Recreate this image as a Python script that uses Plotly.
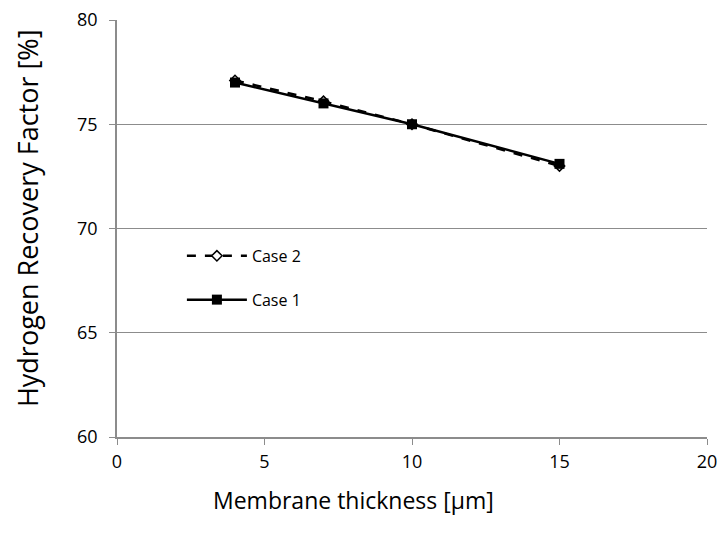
import plotly.graph_objects as go

thickness = [4, 7, 10, 15]
case1 = [77.0, 76.0, 75.0, 73.1]
case2 = [77.1, 76.1, 75.0, 73.0]

x_ticks = [0, 5, 10, 15, 20]
y_ticks = [60, 65, 70, 75, 80]

FONT = "Open Sans"

fig = go.Figure()
fig.add_trace(go.Scatter(
    x=thickness, y=case2, name="Case 2", mode="lines+markers", legendgroup="c2",
    line=dict(color="black", width=2.5, dash="dash"),
    marker=dict(symbol="diamond", size=8, color="white",
                line=dict(color="black", width=1.5)),
))
fig.add_trace(go.Scatter(
    x=thickness, y=case1, name="Case 1", mode="lines+markers", legendgroup="c1",
    line=dict(color="black", width=2.5),
    marker=dict(symbol="square", size=10, color="black"),
))

fig.update_layout(
    width=724, height=533,
    margin=dict(l=117, r=17, t=20, b=96, autoexpand=False),
    paper_bgcolor="white", plot_bgcolor="white",
    font=dict(family=FONT, color="black", size=18),
    showlegend=True,
    legend=dict(x=0.11, y=0.475, xanchor="left", yanchor="top",
                bgcolor="rgba(0,0,0,0)", font=dict(size=16, family=FONT),
                itemwidth=60, tracegroupgap=20, traceorder="grouped"),
    xaxis=dict(range=[0, 20], tickvals=x_ticks, showgrid=False,
               showline=True, linecolor="#8c8c8c", linewidth=1.5,
               ticks="outside", ticklen=6, tickcolor="#8c8c8c",
               zeroline=False, tickfont=dict(size=18), automargin=False,
               ticklabelstandoff=2),
    yaxis=dict(range=[60, 80], tickvals=y_ticks, showgrid=True,
               gridcolor="#8c8c8c", gridwidth=1,
               showline=True, linecolor="#8c8c8c", linewidth=1.5,
               ticks="outside", ticklen=6, tickcolor="#8c8c8c",
               zeroline=False, tickfont=dict(size=18), automargin=False,
               ticklabelstandoff=8),
    annotations=[
        dict(text="Membrane thickness [μm]", xref="paper", yref="paper",
             x=0.40, y=-0.151, xanchor="center", yanchor="middle",
             showarrow=False, font=dict(size=23, family=FONT)),
        dict(text="Hydrogen Recovery Factor [%]", xref="paper", yref="paper",
             x=-0.1525, y=0.525, xanchor="center", yanchor="middle", textangle=-90,
             showarrow=False, font=dict(size=27, family=FONT)),
    ],
)

fig.write_html("out.html")
